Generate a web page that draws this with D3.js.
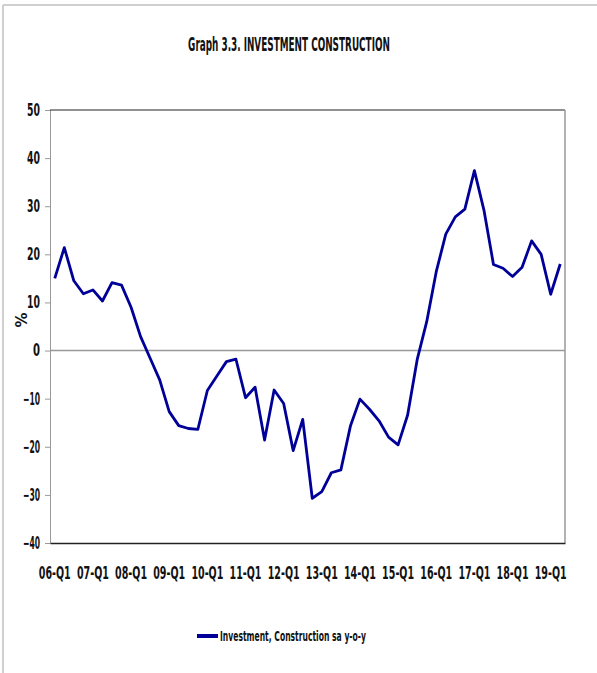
<!DOCTYPE html>
<html>
<head>
<meta charset="utf-8">
<script src="https://d3js.org/d3.v7.min.js"></script>
<style>
  body { margin: 0; background: #fff; }
  text { font-family: "DejaVu Sans", sans-serif; font-weight: bold; fill: #111; }
</style>
</head>
<body>
<div id="chart"></div>
<script>
// datos
const quarters = [];
for (let y = 6; y <= 19; y++) {
  for (let q = 1; q <= 4; q++) {
    if (y === 19 && q > 2) break;
    quarters.push(String(y).padStart(2, "0") + "-Q" + q);
  }
}
const investment = [
  15.0, 21.4, 14.5, 11.8, 12.6, 10.3, 14.1, 13.6,
  9.0, 2.9, -1.6, -6.1, -12.7, -15.6, -16.2, -16.4,
  -8.3, -5.3, -2.3, -1.8, -9.8, -7.6, -18.6, -8.2,
  -11.0, -20.8, -14.3, -30.7, -29.3, -25.4, -24.8, -15.7,
  -10.1, -12.2, -14.6, -18.0, -19.6, -13.4, -1.9, 6.0,
  16.4, 24.2, 27.8, 29.4, 37.4, 29.2, 17.9, 17.1,
  15.4, 17.3, 22.8, 20.0, 11.7, 18.0
];
const yTicks = [-40, -30, -20, -10, 0, 10, 20, 30, 40, 50];
const xLabels = quarters.filter(d => d.endsWith("Q1"));

const width = 597, height = 673;
const margin = { top: 110, right: 32, bottom: 130, left: 50 };

const svg = d3.select("#chart").append("svg")
  .attr("width", width)
  .attr("height", height);

// marco exterior (solo arriba e izquierda visibles)
svg.append("line").attr("x1", 3).attr("x2", width).attr("y1", 5).attr("y2", 5)
  .attr("stroke", "#c0c0c0").attr("stroke-width", 1.5);
svg.append("line").attr("x1", 3).attr("x2", 3).attr("y1", 5).attr("y2", height)
  .attr("stroke", "#c0c0c0").attr("stroke-width", 1.5);

const x = d3.scaleBand()
  .domain(quarters)
  .range([margin.left, width - margin.right]);

const y = d3.scaleLinear()
  .domain([-40, 50])
  .range([height - margin.bottom, margin.top]);

// estrechar el texto horizontalmente (la fuente original es condensada)
function squeeze(sel, target) {
  sel.each(function() {
    const t = d3.select(this);
    const w = this.getComputedTextLength();
    const s = Math.min(1, target / w);
    const x0 = +t.attr("x") || 0;
    t.attr("x", x0 / s).attr("transform", `scale(${s},1)`);
  });
}

// titulo
svg.append("text")
  .attr("x", 289)
  .attr("y", 51)
  .attr("text-anchor", "middle")
  .style("font-size", "19px")
  .text("Graph 3.3. INVESTMENT CONSTRUCTION")
  .call(squeeze, 202);

// eje y
const yAxis = svg.append("g")
  .attr("transform", `translate(${margin.left},0)`)
  .call(d3.axisLeft(y).tickValues(yTicks).tickSize(5).tickPadding(5));
yAxis.select(".domain").attr("stroke", "#999");
yAxis.selectAll(".tick line").attr("stroke", "#999");
yAxis.selectAll("text")
  .style("font-size", "17px").style("font-family", null)
  .each(function(d) {
    const n = String(d).length;
    d3.select(this).call(squeeze, n === 1 ? 7 : n === 2 ? 13 : 17);
  });

// linea del cero
svg.append("line")
  .attr("x1", margin.left).attr("x2", width - margin.right)
  .attr("y1", y(0)).attr("y2", y(0))
  .attr("stroke", "#999").attr("stroke-width", 1.5);

// bordes del area del grafico
svg.append("line")
  .attr("x1", margin.left).attr("x2", width - margin.right)
  .attr("y1", y(50)).attr("y2", y(50))
  .attr("stroke", "#222").attr("stroke-width", 1);
svg.append("line")
  .attr("x1", width - margin.right).attr("x2", width - margin.right)
  .attr("y1", y(50)).attr("y2", y(-40))
  .attr("stroke", "#999").attr("stroke-width", 1.5);

// eje x
const xAxis = svg.append("g")
  .attr("transform", `translate(0,${y(-40)})`)
  .call(d3.axisBottom(x).tickValues(xLabels).tickSize(0).tickPadding(24));
xAxis.select(".domain").attr("stroke", "#222").attr("stroke-width", 1.5);
xAxis.selectAll("text")
  .style("font-size", "17px").style("font-family", null)
  .call(squeeze, 32);

// etiqueta %
svg.append("text")
  .attr("transform", "translate(27,320) rotate(-90)")
  .attr("text-anchor", "middle")
  .style("font-size", "15px")
  .text("%");

// serie
const line = d3.line()
  .x((d, i) => x(quarters[i]) + x.bandwidth() / 2)
  .y(d => y(d));

svg.append("path")
  .datum(investment)
  .attr("fill", "none")
  .attr("stroke", "#000099")
  .attr("stroke-width", 2.8)
  .attr("stroke-linejoin", "round")
  .attr("d", line);

// leyenda
const legend = svg.append("g").attr("transform", "translate(197,636)");
legend.append("line")
  .attr("x1", 0).attr("x2", 21)
  .attr("stroke", "#000099").attr("stroke-width", 4);
legend.append("text")
  .attr("x", 23).attr("y", 5)
  .style("font-size", "14px")
  .text("Investment, Construction sa y-o-y")
  .call(squeeze, 146);
</script>
</body>
</html>
